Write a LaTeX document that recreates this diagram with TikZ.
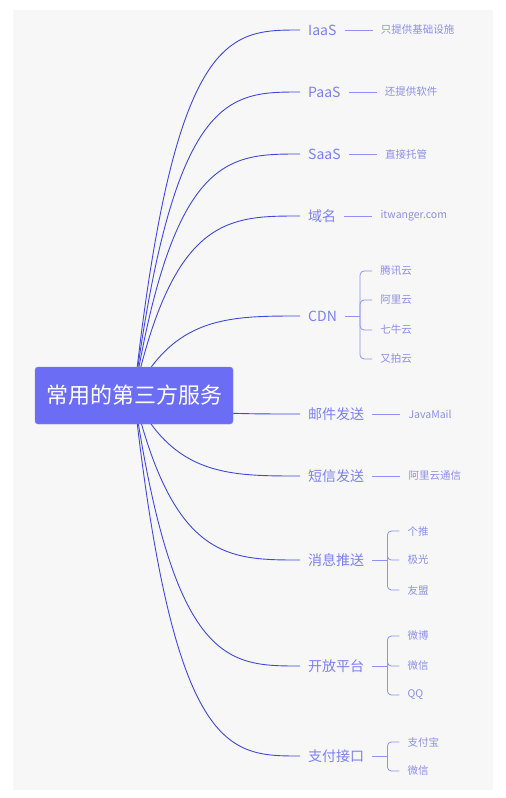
\documentclass[tikz,border=0pt]{standalone}
\usepackage{fontspec}
\usepackage{xcolor}
\usepackage{tikz}
\usetikzlibrary{
  positioning,
  calc,
  backgrounds
}
\newfontfamily\cjk{Noto Sans CJK SC}
\definecolor{mmRoot}{HTML}{6B6EF5}
\definecolor{mmCurve}{HTML}{3F48D8}
\definecolor{mmTopic}{HTML}{7C80F2}
\definecolor{mmLeaf}{HTML}{8C8FE8}
\definecolor{mmTwig}{HTML}{8E92F6}
\definecolor{mmPaper}{HTML}{F7F7F7}
\tikzset{
  rootnode/.style={
    draw=mmRoot!85!white, fill=mmRoot, rounded corners=3pt,
    minimum width=198pt, minimum height=57pt,
    font=\cjk\fontsize{22}{26}\selectfont, text=white
  },
  topicnode/.style={anchor=west, inner xsep=8pt, inner ysep=2pt,
    font=\cjk\fontsize{14}{16}\selectfont, text=mmTopic},
  leafnode/.style={anchor=west, inner xsep=8pt, inner ysep=1pt,
    font=\cjk\fontsize{10.5}{12}\selectfont, text=mmLeaf},
  branchline/.style={draw=mmCurve, line width=0.9pt},
  twigline/.style={draw=mmTwig, line width=0.8pt},
  forkline/.style={twigline, rounded corners=4pt}
}
% curve from the centre of the root to the left of a topic
\newcommand{\branchcurve}[2]{%
  \draw[branchline] let \p1=(#1), \p2=(#2) in
    (\p1) .. controls ({\x1+0.24*(\x2-\x1)},\y2) and ({\x1+0.57*(\x2-\x1)},\y2) .. (\p2);}

\begin{document}
\begin{tikzpicture}[x=1pt, y=-1pt]
  \useasboundingbox (0,0) rectangle (506,798);

  \node[rootnode] (root) at (134,395.5) {常用的第三方服务};

  % topics
  \node[topicnode] (iaas) at (300,30) {IaaS};
  \node[topicnode] (paas) at (300,92) {PaaS};
  \node[topicnode] (saas) at (300,154) {SaaS};
  \node[topicnode] (domain) at (300,216) {域名};
  \node[topicnode] (cdn) at (300,316) {CDN};
  \node[topicnode] (mail) at (300,414) {邮件发送};
  \node[topicnode] (sms) at (300,476) {短信发送};
  \node[topicnode] (push) at (300,560) {消息推送};
  \node[topicnode] (open) at (300,666) {开放平台};
  \node[topicnode] (pay) at (300,756) {支付接口};

  % single leaves
  \node[leafnode, right=28pt of iaas] (iaas-l) {只提供基础设施};
  \node[leafnode, right=28pt of paas] (paas-l) {还提供软件};
  \node[leafnode, right=28pt of saas] (saas-l) {直接托管};
  \node[leafnode, right=28pt of domain] (domain-l) {itwanger.com};
  \node[leafnode, right=28pt of mail] (mail-l) {JavaMail};
  \node[leafnode, right=28pt of sms] (sms-l) {阿里云通信};
  \foreach \t in {iaas,paas,saas,domain,mail,sms}
    \draw[twigline] (\t.east) -- (\t-l.west);

  % bracketed leaves
  \draw[twigline] (cdn.east) -- ++(15,0) coordinate (cdnfork);
  \foreach \y/\txt [count=\i] in {271/腾讯云, 300/阿里云, 330/七牛云, 359/又拍云} {
    \node[leafnode] (cdn\i) at ([xshift=12pt]cdnfork |- 0,\y) {\txt};
    \draw[forkline] (cdnfork) |- (cdn\i.west);
  }
  \draw[twigline] (push.east) -- ++(15,0) coordinate (pushfork);
  \foreach \y/\txt [count=\i] in {531/个推, 560/极光, 590/友盟} {
    \node[leafnode] (push\i) at ([xshift=12pt]pushfork |- 0,\y) {\txt};
    \draw[forkline] (pushfork) |- (push\i.west);
  }
  \draw[twigline] (open.east) -- ++(15,0) coordinate (openfork);
  \foreach \y/\txt [count=\i] in {636/微博, 666/微信, 695/QQ} {
    \node[leafnode] (open\i) at ([xshift=12pt]openfork |- 0,\y) {\txt};
    \draw[forkline] (openfork) |- (open\i.west);
  }
  \draw[twigline] (pay.east) -- ++(15,0) coordinate (payfork);
  \foreach \y/\txt [count=\i] in {742/支付宝, 771/微信} {
    \node[leafnode] (pay\i) at ([xshift=12pt]payfork |- 0,\y) {\txt};
    \draw[forkline] (payfork) |- (pay\i.west);
  }

  \begin{scope}[on background layer]
    \fill[mmPaper] (13,10) rectangle (493,790);
    \foreach \t in {iaas,paas,saas,domain,cdn,mail,sms,push,open,pay} {
      \branchcurve{root.center}{\t.west}
    }
  \end{scope}
\end{tikzpicture}
\end{document}
